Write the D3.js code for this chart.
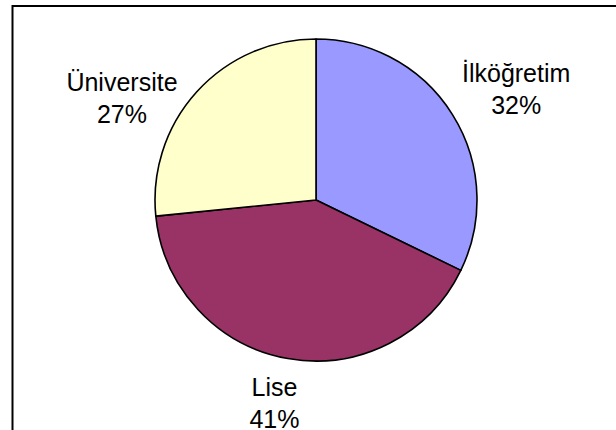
<!DOCTYPE html>
<html lang="tr">
<head>
    <meta charset="UTF-8">
    <title>Eğitim Durumu</title>
    <script src="https://d3js.org/d3.v7.min.js"></script>
    <style>
        body {
            margin: 0;
            background: #fff;
        }
        svg {
            display: block;
        }
        .lbl {
            font-family: "Liberation Sans", Arial, sans-serif;
            font-size: 25px;
            fill: #000;
        }
    </style>
</head>
<body>
<script>
    // data
    const categories = ["İlköğretim", "Lise", "Üniversite"];
    const shares = [32.2, 41.2, 26.6];
    const colors = ["#9999FF", "#993366", "#FFFFCC"];

    // excel had the labels dragged a bit by hand, these are the nudges (px)
    const labelNudge = [[23, 0], [-5, -3], [-39, 38]];

    const width = 616, height = 430;
    const cx = 316, cy = 200, radius = 161;

    const svg = d3.select("body").append("svg")
        .attr("width", width)
        .attr("height", height);

    // chart frame (only top and left edges show, rest is cropped)
    svg.append("rect")
        .attr("x", 12.5)
        .attr("y", 6)
        .attr("width", 800)
        .attr("height", 800)
        .attr("fill", "none")
        .attr("stroke", "#000")
        .attr("stroke-width", 2);

    const data = categories.map((c, i) => ({name: c, value: shares[i], color: colors[i], nudge: labelNudge[i]}));

    const pie = d3.pie().value(d => d.value).sort(null);
    const arcs = pie(data);

    const arc = d3.arc().innerRadius(0).outerRadius(radius);
    const labelArc = d3.arc().innerRadius(radius + 48).outerRadius(radius + 48);

    const g = svg.append("g").attr("transform", `translate(${cx},${cy})`);

    g.selectAll("path")
        .data(arcs)
        .enter()
        .append("path")
        .attr("d", arc)
        .attr("fill", d => d.data.color)
        .attr("stroke", "#000")
        .attr("stroke-width", 1.6)
        .attr("stroke-linejoin", "round");

    const fmt = v => Math.round(v) + "%";

    const labels = g.selectAll(".lbl")
        .data(arcs)
        .enter()
        .append("text")
        .attr("class", "lbl")
        .attr("text-anchor", "middle")
        .attr("transform", d => {
            const [x, y] = labelArc.centroid(d);
            return `translate(${x + d.data.nudge[0]},${y + d.data.nudge[1]})`;
        });

    labels.append("tspan")
        .attr("x", 0)
        .attr("y", -7)
        .text(d => d.data.name);

    labels.append("tspan")
        .attr("x", 0)
        .attr("y", 25)
        .text(d => fmt(d.data.value));
</script>
</body>
</html>
